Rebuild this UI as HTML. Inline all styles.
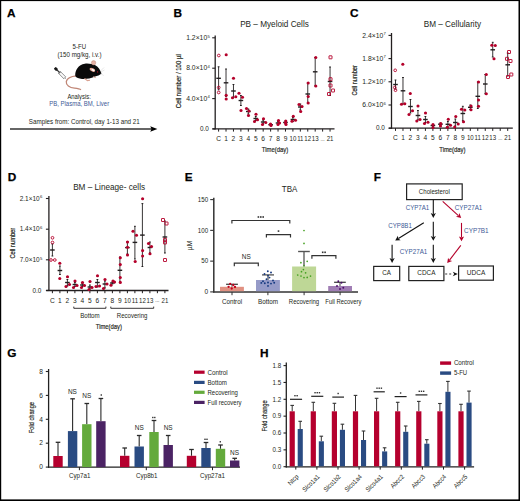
<!DOCTYPE html>
<html><head><meta charset="utf-8"><style>
html,body{margin:0;padding:0;background:#fff;}
svg{display:block;font-family:"Liberation Sans", sans-serif;}
</style></head><body>
<svg width="520" height="501" viewBox="0 0 520 501">
<rect x="0" y="0" width="520" height="1.1" fill="#000"/><rect x="0" y="499.4" width="520" height="1.6" fill="#000"/><rect x="0" y="0" width="1.2" height="501" fill="#000"/><rect x="518.5" y="0" width="1.5" height="501" fill="#000"/>
<text x="7" y="17.3" font-size="11.8" fill="#000" font-weight="bold" stroke="#000" stroke-width="0.25">A</text>
<text x="173.5" y="17.3" font-size="11.8" fill="#000" font-weight="bold" stroke="#000" stroke-width="0.25">B</text>
<text x="350" y="17.2" font-size="11.8" fill="#000" font-weight="bold" stroke="#000" stroke-width="0.25">C</text>
<text x="7.7" y="181.10000000000002" font-size="11.8" fill="#000" font-weight="bold" stroke="#000" stroke-width="0.25">D</text>
<text x="184.7" y="181.20000000000002" font-size="11.8" fill="#000" font-weight="bold" stroke="#000" stroke-width="0.25">E</text>
<text x="373.8" y="180.70000000000002" font-size="11.8" fill="#000" font-weight="bold" stroke="#000" stroke-width="0.25">F</text>
<text x="7.3" y="357.2" font-size="11.8" fill="#000" font-weight="bold" stroke="#000" stroke-width="0.25">G</text>
<text x="260" y="357.1" font-size="11.8" fill="#000" font-weight="bold" stroke="#000" stroke-width="0.25">H</text>
<line x1="215.2" y1="35.4" x2="215.2" y2="129.5" stroke="#231f20" stroke-width="1.3"/>
<line x1="212.5" y1="128.9" x2="334.5" y2="128.9" stroke="#231f20" stroke-width="1.3"/>
<line x1="212.2" y1="37.8" x2="215.2" y2="37.8" stroke="#231f20" stroke-width="1.1"/>
<line x1="212.2" y1="68.2" x2="215.2" y2="68.2" stroke="#231f20" stroke-width="1.1"/>
<line x1="212.2" y1="98.6" x2="215.2" y2="98.6" stroke="#231f20" stroke-width="1.1"/>
<line x1="212.2" y1="128.9" x2="215.2" y2="128.9" stroke="#231f20" stroke-width="1.1"/>
<line x1="218.6" y1="128.9" x2="218.6" y2="131.6" stroke="#231f20" stroke-width="1.0"/>
<line x1="226.03" y1="128.9" x2="226.03" y2="131.6" stroke="#231f20" stroke-width="1.0"/>
<line x1="233.45999999999998" y1="128.9" x2="233.45999999999998" y2="131.6" stroke="#231f20" stroke-width="1.0"/>
<line x1="240.89" y1="128.9" x2="240.89" y2="131.6" stroke="#231f20" stroke-width="1.0"/>
<line x1="248.32" y1="128.9" x2="248.32" y2="131.6" stroke="#231f20" stroke-width="1.0"/>
<line x1="255.75" y1="128.9" x2="255.75" y2="131.6" stroke="#231f20" stroke-width="1.0"/>
<line x1="263.18" y1="128.9" x2="263.18" y2="131.6" stroke="#231f20" stroke-width="1.0"/>
<line x1="270.61" y1="128.9" x2="270.61" y2="131.6" stroke="#231f20" stroke-width="1.0"/>
<line x1="278.03999999999996" y1="128.9" x2="278.03999999999996" y2="131.6" stroke="#231f20" stroke-width="1.0"/>
<line x1="285.47" y1="128.9" x2="285.47" y2="131.6" stroke="#231f20" stroke-width="1.0"/>
<line x1="292.9" y1="128.9" x2="292.9" y2="131.6" stroke="#231f20" stroke-width="1.0"/>
<line x1="300.33" y1="128.9" x2="300.33" y2="131.6" stroke="#231f20" stroke-width="1.0"/>
<line x1="307.76" y1="128.9" x2="307.76" y2="131.6" stroke="#231f20" stroke-width="1.0"/>
<line x1="315.19" y1="128.9" x2="315.19" y2="131.6" stroke="#231f20" stroke-width="1.0"/>
<line x1="322.62" y1="128.9" x2="322.62" y2="131.6" stroke="#231f20" stroke-width="1.0"/>
<line x1="330.04999999999995" y1="128.9" x2="330.04999999999995" y2="131.6" stroke="#231f20" stroke-width="1.0"/>
<text x="207.2" y="39.9" font-size="6.6" fill="#231f20" text-anchor="end" textLength="21" lengthAdjust="spacingAndGlyphs">1.2×10</text>
<text x="207.39999999999998" y="37.5" font-size="4.2" fill="#231f20">5</text>
<text x="207.2" y="70.3" font-size="6.6" fill="#231f20" text-anchor="end" textLength="21" lengthAdjust="spacingAndGlyphs">8.0×10</text>
<text x="207.39999999999998" y="67.9" font-size="4.2" fill="#231f20">4</text>
<text x="207.2" y="100.69999999999999" font-size="6.6" fill="#231f20" text-anchor="end" textLength="21" lengthAdjust="spacingAndGlyphs">4.0×10</text>
<text x="207.39999999999998" y="98.3" font-size="4.2" fill="#231f20">4</text>
<text x="208.79999999999998" y="131.0" font-size="6.6" fill="#231f20" text-anchor="end" textLength="8.9" lengthAdjust="spacingAndGlyphs">0.0</text>
<text x="218.6" y="140.9" font-size="6.6" fill="#231f20" text-anchor="middle">C</text>
<text x="226.03" y="140.9" font-size="6.6" fill="#231f20" text-anchor="middle">1</text>
<text x="233.45999999999998" y="140.9" font-size="6.6" fill="#231f20" text-anchor="middle">2</text>
<text x="240.89" y="140.9" font-size="6.6" fill="#231f20" text-anchor="middle">3</text>
<text x="248.32" y="140.9" font-size="6.6" fill="#231f20" text-anchor="middle">4</text>
<text x="255.75" y="140.9" font-size="6.6" fill="#231f20" text-anchor="middle">5</text>
<text x="263.18" y="140.9" font-size="6.6" fill="#231f20" text-anchor="middle">6</text>
<text x="270.61" y="140.9" font-size="6.6" fill="#231f20" text-anchor="middle">7</text>
<text x="278.03999999999996" y="140.9" font-size="6.6" fill="#231f20" text-anchor="middle">8</text>
<text x="285.47" y="140.9" font-size="6.6" fill="#231f20" text-anchor="middle">9</text>
<text x="292.9" y="140.9" font-size="6.6" fill="#231f20" text-anchor="middle" textLength="6.78" lengthAdjust="spacingAndGlyphs">10</text>
<text x="300.33" y="140.9" font-size="6.6" fill="#231f20" text-anchor="middle" textLength="6.33" lengthAdjust="spacingAndGlyphs">11</text>
<text x="307.76" y="140.9" font-size="6.6" fill="#231f20" text-anchor="middle" textLength="6.78" lengthAdjust="spacingAndGlyphs">12</text>
<text x="315.19" y="140.9" font-size="6.6" fill="#231f20" text-anchor="middle" textLength="6.78" lengthAdjust="spacingAndGlyphs">13</text>
<text x="322.62" y="140.70000000000002" font-size="5.0" fill="#231f20" text-anchor="middle">...</text>
<text x="330.04999999999995" y="140.9" font-size="6.6" fill="#231f20" text-anchor="middle" textLength="6.78" lengthAdjust="spacingAndGlyphs">21</text>
<text x="274.5" y="27.2" font-size="8.2" fill="#231f20" text-anchor="middle">PB – Myeloid Cells</text>
<text x="180.6" y="81.2" font-size="8.0" fill="#231f20" text-anchor="middle" textLength="54" lengthAdjust="spacingAndGlyphs" transform="rotate(-90 180.6 81.2)" stroke="#231f20" stroke-width="0.2">Cell number / 100 µl</text>
<text x="275" y="152.3" font-size="8.0" fill="#231f20" text-anchor="middle" textLength="26.3" lengthAdjust="spacingAndGlyphs" stroke="#231f20" stroke-width="0.2">Time(day)</text>
<line x1="218.6" y1="66.8" x2="218.6" y2="89.8" stroke="#231f20" stroke-width="0.9"/>
<line x1="217.7" y1="66.8" x2="219.5" y2="66.8" stroke="#231f20" stroke-width="1.0"/>
<line x1="217.7" y1="89.8" x2="219.5" y2="89.8" stroke="#231f20" stroke-width="1.0"/>
<line x1="216.29999999999998" y1="78.3" x2="220.9" y2="78.3" stroke="#231f20" stroke-width="1.4"/>
<circle cx="218.8" cy="55.5" r="1.35" fill="none" stroke="#b4002a" stroke-width="0.9"/>
<circle cx="218.7" cy="87.5" r="1.35" fill="none" stroke="#b4002a" stroke-width="0.9"/>
<circle cx="218.7" cy="92.5" r="1.35" fill="none" stroke="#b4002a" stroke-width="0.9"/>
<line x1="226.03" y1="69" x2="226.03" y2="96.6" stroke="#231f20" stroke-width="0.9"/>
<line x1="225.13" y1="69" x2="226.93" y2="69" stroke="#231f20" stroke-width="1.0"/>
<line x1="225.13" y1="96.6" x2="226.93" y2="96.6" stroke="#231f20" stroke-width="1.0"/>
<line x1="223.73" y1="82.8" x2="228.33" y2="82.8" stroke="#231f20" stroke-width="1.4"/>
<circle cx="226.2" cy="54.8" r="1.55" fill="#b4002a"/>
<circle cx="226.2" cy="95.2" r="1.55" fill="#b4002a"/>
<circle cx="226.2" cy="99" r="1.55" fill="#b4002a"/>
<line x1="233.45999999999998" y1="84.5" x2="233.45999999999998" y2="97.5" stroke="#231f20" stroke-width="0.9"/>
<line x1="232.55999999999997" y1="84.5" x2="234.35999999999999" y2="84.5" stroke="#231f20" stroke-width="1.0"/>
<line x1="232.55999999999997" y1="97.5" x2="234.35999999999999" y2="97.5" stroke="#231f20" stroke-width="1.0"/>
<line x1="231.15999999999997" y1="91" x2="235.76" y2="91" stroke="#231f20" stroke-width="1.4"/>
<circle cx="233.5" cy="78.3" r="1.55" fill="#b4002a"/>
<circle cx="232.5" cy="97.8" r="1.55" fill="#b4002a"/>
<circle cx="235.8" cy="96.8" r="1.55" fill="#b4002a"/>
<line x1="240.89" y1="95.5" x2="240.89" y2="105.5" stroke="#231f20" stroke-width="0.9"/>
<line x1="239.98999999999998" y1="95.5" x2="241.79" y2="95.5" stroke="#231f20" stroke-width="1.0"/>
<line x1="239.98999999999998" y1="105.5" x2="241.79" y2="105.5" stroke="#231f20" stroke-width="1.0"/>
<line x1="238.58999999999997" y1="100.5" x2="243.19" y2="100.5" stroke="#231f20" stroke-width="1.4"/>
<circle cx="239" cy="93.3" r="1.55" fill="#b4002a"/>
<circle cx="242.5" cy="97.2" r="1.55" fill="#b4002a"/>
<circle cx="241" cy="110.5" r="1.55" fill="#b4002a"/>
<line x1="248.32" y1="109" x2="248.32" y2="114" stroke="#231f20" stroke-width="0.9"/>
<line x1="247.42" y1="109" x2="249.22" y2="109" stroke="#231f20" stroke-width="1.0"/>
<line x1="247.42" y1="114" x2="249.22" y2="114" stroke="#231f20" stroke-width="1.0"/>
<line x1="246.01999999999998" y1="111.5" x2="250.62" y2="111.5" stroke="#231f20" stroke-width="1.4"/>
<circle cx="246.5" cy="108.5" r="1.55" fill="#b4002a"/>
<circle cx="249" cy="111" r="1.55" fill="#b4002a"/>
<circle cx="248.5" cy="115.5" r="1.55" fill="#b4002a"/>
<line x1="255.75" y1="116.5" x2="255.75" y2="120.5" stroke="#231f20" stroke-width="0.9"/>
<line x1="254.85" y1="116.5" x2="256.65" y2="116.5" stroke="#231f20" stroke-width="1.0"/>
<line x1="254.85" y1="120.5" x2="256.65" y2="120.5" stroke="#231f20" stroke-width="1.0"/>
<line x1="253.45" y1="118.5" x2="258.05" y2="118.5" stroke="#231f20" stroke-width="1.4"/>
<circle cx="256" cy="114.2" r="1.55" fill="#b4002a"/>
<circle cx="254.5" cy="121.5" r="1.55" fill="#b4002a"/>
<circle cx="257.5" cy="119.8" r="1.55" fill="#b4002a"/>
<line x1="263.18" y1="120" x2="263.18" y2="124" stroke="#231f20" stroke-width="0.9"/>
<line x1="262.28000000000003" y1="120" x2="264.08" y2="120" stroke="#231f20" stroke-width="1.0"/>
<line x1="262.28000000000003" y1="124" x2="264.08" y2="124" stroke="#231f20" stroke-width="1.0"/>
<line x1="260.88" y1="122" x2="265.48" y2="122" stroke="#231f20" stroke-width="1.4"/>
<circle cx="263.5" cy="118.8" r="1.55" fill="#b4002a"/>
<circle cx="262.5" cy="124.5" r="1.55" fill="#b4002a"/>
<circle cx="265.8" cy="122.5" r="1.55" fill="#b4002a"/>
<line x1="270.61" y1="124" x2="270.61" y2="125.5" stroke="#231f20" stroke-width="0.9"/>
<line x1="269.71000000000004" y1="124" x2="271.51" y2="124" stroke="#231f20" stroke-width="1.0"/>
<line x1="269.71000000000004" y1="125.5" x2="271.51" y2="125.5" stroke="#231f20" stroke-width="1.0"/>
<line x1="268.31" y1="124.7" x2="272.91" y2="124.7" stroke="#231f20" stroke-width="1.4"/>
<circle cx="270.5" cy="124" r="1.55" fill="#b4002a"/>
<circle cx="271" cy="125.5" r="1.55" fill="#b4002a"/>
<line x1="278.03999999999996" y1="121.5" x2="278.03999999999996" y2="124.5" stroke="#231f20" stroke-width="0.9"/>
<line x1="277.14" y1="121.5" x2="278.93999999999994" y2="121.5" stroke="#231f20" stroke-width="1.0"/>
<line x1="277.14" y1="124.5" x2="278.93999999999994" y2="124.5" stroke="#231f20" stroke-width="1.0"/>
<line x1="275.73999999999995" y1="123" x2="280.34" y2="123" stroke="#231f20" stroke-width="1.4"/>
<circle cx="278.5" cy="120.5" r="1.55" fill="#b4002a"/>
<circle cx="278" cy="124.5" r="1.55" fill="#b4002a"/>
<circle cx="279.5" cy="123" r="1.55" fill="#b4002a"/>
<line x1="285.47" y1="121" x2="285.47" y2="124" stroke="#231f20" stroke-width="0.9"/>
<line x1="284.57000000000005" y1="121" x2="286.37" y2="121" stroke="#231f20" stroke-width="1.0"/>
<line x1="284.57000000000005" y1="124" x2="286.37" y2="124" stroke="#231f20" stroke-width="1.0"/>
<line x1="283.17" y1="122.5" x2="287.77000000000004" y2="122.5" stroke="#231f20" stroke-width="1.4"/>
<circle cx="285.8" cy="121" r="1.55" fill="#b4002a"/>
<circle cx="286" cy="124.5" r="1.55" fill="#b4002a"/>
<circle cx="285.5" cy="122.8" r="1.55" fill="#b4002a"/>
<line x1="292.9" y1="117.5" x2="292.9" y2="121.5" stroke="#231f20" stroke-width="0.9"/>
<line x1="292.0" y1="117.5" x2="293.79999999999995" y2="117.5" stroke="#231f20" stroke-width="1.0"/>
<line x1="292.0" y1="121.5" x2="293.79999999999995" y2="121.5" stroke="#231f20" stroke-width="1.0"/>
<line x1="290.59999999999997" y1="119.5" x2="295.2" y2="119.5" stroke="#231f20" stroke-width="1.4"/>
<circle cx="293.3" cy="116.2" r="1.55" fill="#b4002a"/>
<circle cx="292" cy="121.2" r="1.55" fill="#b4002a"/>
<circle cx="295.5" cy="120.2" r="1.55" fill="#b4002a"/>
<line x1="300.33" y1="104" x2="300.33" y2="110" stroke="#231f20" stroke-width="0.9"/>
<line x1="299.43" y1="104" x2="301.22999999999996" y2="104" stroke="#231f20" stroke-width="1.0"/>
<line x1="299.43" y1="110" x2="301.22999999999996" y2="110" stroke="#231f20" stroke-width="1.0"/>
<line x1="298.03" y1="107" x2="302.63" y2="107" stroke="#231f20" stroke-width="1.4"/>
<circle cx="299" cy="104.5" r="1.55" fill="#b4002a"/>
<circle cx="302" cy="106.5" r="1.55" fill="#b4002a"/>
<circle cx="300.7" cy="111.5" r="1.55" fill="#b4002a"/>
<line x1="307.76" y1="83" x2="307.76" y2="103" stroke="#231f20" stroke-width="0.9"/>
<line x1="306.86" y1="83" x2="308.65999999999997" y2="83" stroke="#231f20" stroke-width="1.0"/>
<line x1="306.86" y1="103" x2="308.65999999999997" y2="103" stroke="#231f20" stroke-width="1.0"/>
<line x1="305.46" y1="94" x2="310.06" y2="94" stroke="#231f20" stroke-width="1.4"/>
<circle cx="308.2" cy="83" r="1.55" fill="#b4002a"/>
<circle cx="308.2" cy="96.5" r="1.55" fill="#b4002a"/>
<circle cx="308.2" cy="103" r="1.55" fill="#b4002a"/>
<line x1="315.19" y1="57.5" x2="315.19" y2="86" stroke="#231f20" stroke-width="0.9"/>
<line x1="314.29" y1="57.5" x2="316.09" y2="57.5" stroke="#231f20" stroke-width="1.0"/>
<line x1="314.29" y1="86" x2="316.09" y2="86" stroke="#231f20" stroke-width="1.0"/>
<line x1="312.89" y1="71.8" x2="317.49" y2="71.8" stroke="#231f20" stroke-width="1.4"/>
<circle cx="315.8" cy="57.5" r="1.55" fill="#b4002a"/>
<circle cx="315.8" cy="86" r="1.55" fill="#b4002a"/>
<line x1="330.04999999999995" y1="67" x2="330.04999999999995" y2="95.5" stroke="#231f20" stroke-width="0.9"/>
<line x1="329.15" y1="67" x2="330.94999999999993" y2="67" stroke="#231f20" stroke-width="1.0"/>
<line x1="329.15" y1="95.5" x2="330.94999999999993" y2="95.5" stroke="#231f20" stroke-width="1.0"/>
<line x1="327.74999999999994" y1="81.5" x2="332.34999999999997" y2="81.5" stroke="#231f20" stroke-width="1.4"/>
<rect x="329.0" y="55.8" width="3.0" height="3.0" rx="0.2" fill="none" stroke="#b4002a" stroke-width="0.9"/>
<rect x="329.0" y="77.7" width="3.0" height="3.0" rx="0.2" fill="none" stroke="#b4002a" stroke-width="0.9"/>
<rect x="329.0" y="84.0" width="3.0" height="3.0" rx="0.2" fill="none" stroke="#b4002a" stroke-width="0.9"/>
<rect x="331.5" y="89.0" width="3.0" height="3.0" rx="0.2" fill="none" stroke="#b4002a" stroke-width="0.9"/>
<rect x="327.5" y="92.5" width="3.0" height="3.0" rx="0.2" fill="none" stroke="#b4002a" stroke-width="0.9"/>
<line x1="391.5" y1="33.0" x2="391.5" y2="128.79999999999998" stroke="#231f20" stroke-width="1.3"/>
<line x1="388.8" y1="128.2" x2="512.8" y2="128.2" stroke="#231f20" stroke-width="1.3"/>
<line x1="388.5" y1="35.4" x2="391.5" y2="35.4" stroke="#231f20" stroke-width="1.1"/>
<line x1="388.5" y1="58.6" x2="391.5" y2="58.6" stroke="#231f20" stroke-width="1.1"/>
<line x1="388.5" y1="81.8" x2="391.5" y2="81.8" stroke="#231f20" stroke-width="1.1"/>
<line x1="388.5" y1="105.0" x2="391.5" y2="105.0" stroke="#231f20" stroke-width="1.1"/>
<line x1="388.5" y1="128.2" x2="391.5" y2="128.2" stroke="#231f20" stroke-width="1.1"/>
<line x1="395.5" y1="128.2" x2="395.5" y2="130.89999999999998" stroke="#231f20" stroke-width="1.0"/>
<line x1="402.98" y1="128.2" x2="402.98" y2="130.89999999999998" stroke="#231f20" stroke-width="1.0"/>
<line x1="410.46" y1="128.2" x2="410.46" y2="130.89999999999998" stroke="#231f20" stroke-width="1.0"/>
<line x1="417.94" y1="128.2" x2="417.94" y2="130.89999999999998" stroke="#231f20" stroke-width="1.0"/>
<line x1="425.42" y1="128.2" x2="425.42" y2="130.89999999999998" stroke="#231f20" stroke-width="1.0"/>
<line x1="432.9" y1="128.2" x2="432.9" y2="130.89999999999998" stroke="#231f20" stroke-width="1.0"/>
<line x1="440.38" y1="128.2" x2="440.38" y2="130.89999999999998" stroke="#231f20" stroke-width="1.0"/>
<line x1="447.86" y1="128.2" x2="447.86" y2="130.89999999999998" stroke="#231f20" stroke-width="1.0"/>
<line x1="455.34000000000003" y1="128.2" x2="455.34000000000003" y2="130.89999999999998" stroke="#231f20" stroke-width="1.0"/>
<line x1="462.82" y1="128.2" x2="462.82" y2="130.89999999999998" stroke="#231f20" stroke-width="1.0"/>
<line x1="470.3" y1="128.2" x2="470.3" y2="130.89999999999998" stroke="#231f20" stroke-width="1.0"/>
<line x1="477.78" y1="128.2" x2="477.78" y2="130.89999999999998" stroke="#231f20" stroke-width="1.0"/>
<line x1="485.26" y1="128.2" x2="485.26" y2="130.89999999999998" stroke="#231f20" stroke-width="1.0"/>
<line x1="492.74" y1="128.2" x2="492.74" y2="130.89999999999998" stroke="#231f20" stroke-width="1.0"/>
<line x1="500.22" y1="128.2" x2="500.22" y2="130.89999999999998" stroke="#231f20" stroke-width="1.0"/>
<line x1="507.7" y1="128.2" x2="507.7" y2="130.89999999999998" stroke="#231f20" stroke-width="1.0"/>
<text x="383.3" y="37.5" font-size="6.6" fill="#231f20" text-anchor="end" textLength="21" lengthAdjust="spacingAndGlyphs">2.4×10</text>
<text x="383.5" y="35.1" font-size="4.2" fill="#231f20">7</text>
<text x="383.3" y="60.7" font-size="6.6" fill="#231f20" text-anchor="end" textLength="21" lengthAdjust="spacingAndGlyphs">1.8×10</text>
<text x="383.5" y="58.300000000000004" font-size="4.2" fill="#231f20">7</text>
<text x="383.3" y="83.89999999999999" font-size="6.6" fill="#231f20" text-anchor="end" textLength="21" lengthAdjust="spacingAndGlyphs">1.2×10</text>
<text x="383.5" y="81.5" font-size="4.2" fill="#231f20">7</text>
<text x="383.3" y="107.1" font-size="6.6" fill="#231f20" text-anchor="end" textLength="21" lengthAdjust="spacingAndGlyphs">6.0×10</text>
<text x="383.5" y="104.7" font-size="4.2" fill="#231f20">6</text>
<text x="384.90000000000003" y="130.29999999999998" font-size="6.6" fill="#231f20" text-anchor="end" textLength="8.9" lengthAdjust="spacingAndGlyphs">0.0</text>
<text x="395.5" y="140.2" font-size="6.6" fill="#231f20" text-anchor="middle">C</text>
<text x="402.98" y="140.2" font-size="6.6" fill="#231f20" text-anchor="middle">1</text>
<text x="410.46" y="140.2" font-size="6.6" fill="#231f20" text-anchor="middle">2</text>
<text x="417.94" y="140.2" font-size="6.6" fill="#231f20" text-anchor="middle">3</text>
<text x="425.42" y="140.2" font-size="6.6" fill="#231f20" text-anchor="middle">4</text>
<text x="432.9" y="140.2" font-size="6.6" fill="#231f20" text-anchor="middle">5</text>
<text x="440.38" y="140.2" font-size="6.6" fill="#231f20" text-anchor="middle">6</text>
<text x="447.86" y="140.2" font-size="6.6" fill="#231f20" text-anchor="middle">7</text>
<text x="455.34000000000003" y="140.2" font-size="6.6" fill="#231f20" text-anchor="middle">8</text>
<text x="462.82" y="140.2" font-size="6.6" fill="#231f20" text-anchor="middle">9</text>
<text x="470.3" y="140.2" font-size="6.6" fill="#231f20" text-anchor="middle" textLength="6.78" lengthAdjust="spacingAndGlyphs">10</text>
<text x="477.78" y="140.2" font-size="6.6" fill="#231f20" text-anchor="middle" textLength="6.33" lengthAdjust="spacingAndGlyphs">11</text>
<text x="485.26" y="140.2" font-size="6.6" fill="#231f20" text-anchor="middle" textLength="6.78" lengthAdjust="spacingAndGlyphs">12</text>
<text x="492.74" y="140.2" font-size="6.6" fill="#231f20" text-anchor="middle" textLength="6.78" lengthAdjust="spacingAndGlyphs">13</text>
<text x="500.22" y="140.0" font-size="5.0" fill="#231f20" text-anchor="middle">...</text>
<text x="507.7" y="140.2" font-size="6.6" fill="#231f20" text-anchor="middle" textLength="6.78" lengthAdjust="spacingAndGlyphs">21</text>
<text x="452.4" y="27.3" font-size="8.2" fill="#231f20" text-anchor="middle">BM – Cellularity</text>
<text x="357.0" y="80.4" font-size="8.0" fill="#231f20" text-anchor="middle" textLength="30.4" lengthAdjust="spacingAndGlyphs" transform="rotate(-90 357.0 80.4)" stroke="#231f20" stroke-width="0.2">Cell number</text>
<text x="452.4" y="151.8" font-size="8.0" fill="#231f20" text-anchor="middle" textLength="26.2" lengthAdjust="spacingAndGlyphs" stroke="#231f20" stroke-width="0.2">Time(day)</text>
<line x1="395.5" y1="80" x2="395.5" y2="89" stroke="#231f20" stroke-width="0.9"/>
<line x1="394.6" y1="80" x2="396.4" y2="80" stroke="#231f20" stroke-width="1.0"/>
<line x1="394.6" y1="89" x2="396.4" y2="89" stroke="#231f20" stroke-width="1.0"/>
<line x1="393.2" y1="84.5" x2="397.8" y2="84.5" stroke="#231f20" stroke-width="1.4"/>
<circle cx="395.2" cy="70.3" r="1.35" fill="none" stroke="#b4002a" stroke-width="0.9"/>
<circle cx="394.8" cy="87.5" r="1.35" fill="none" stroke="#b4002a" stroke-width="0.9"/>
<circle cx="395.5" cy="90.2" r="1.35" fill="none" stroke="#b4002a" stroke-width="0.9"/>
<line x1="402.98" y1="77.5" x2="402.98" y2="104" stroke="#231f20" stroke-width="0.9"/>
<line x1="402.08000000000004" y1="77.5" x2="403.88" y2="77.5" stroke="#231f20" stroke-width="1.0"/>
<line x1="402.08000000000004" y1="104" x2="403.88" y2="104" stroke="#231f20" stroke-width="1.0"/>
<line x1="400.68" y1="90.8" x2="405.28000000000003" y2="90.8" stroke="#231f20" stroke-width="1.4"/>
<circle cx="402.8" cy="64.2" r="1.55" fill="#b4002a"/>
<circle cx="401.5" cy="104.3" r="1.55" fill="#b4002a"/>
<circle cx="404.8" cy="103.8" r="1.55" fill="#b4002a"/>
<line x1="410.46" y1="99.5" x2="410.46" y2="113" stroke="#231f20" stroke-width="0.9"/>
<line x1="409.56" y1="99.5" x2="411.35999999999996" y2="99.5" stroke="#231f20" stroke-width="1.0"/>
<line x1="409.56" y1="113" x2="411.35999999999996" y2="113" stroke="#231f20" stroke-width="1.0"/>
<line x1="408.15999999999997" y1="106.5" x2="412.76" y2="106.5" stroke="#231f20" stroke-width="1.4"/>
<circle cx="410.3" cy="93.5" r="1.55" fill="#b4002a"/>
<circle cx="412.5" cy="110.8" r="1.55" fill="#b4002a"/>
<circle cx="409" cy="114.5" r="1.55" fill="#b4002a"/>
<line x1="417.94" y1="110.5" x2="417.94" y2="120" stroke="#231f20" stroke-width="0.9"/>
<line x1="417.04" y1="110.5" x2="418.84" y2="110.5" stroke="#231f20" stroke-width="1.0"/>
<line x1="417.04" y1="120" x2="418.84" y2="120" stroke="#231f20" stroke-width="1.0"/>
<line x1="415.64" y1="115.5" x2="420.24" y2="115.5" stroke="#231f20" stroke-width="1.4"/>
<circle cx="418" cy="106" r="1.55" fill="#b4002a"/>
<circle cx="416.8" cy="121" r="1.55" fill="#b4002a"/>
<circle cx="420" cy="119.5" r="1.55" fill="#b4002a"/>
<line x1="425.42" y1="116.5" x2="425.42" y2="122.5" stroke="#231f20" stroke-width="0.9"/>
<line x1="424.52000000000004" y1="116.5" x2="426.32" y2="116.5" stroke="#231f20" stroke-width="1.0"/>
<line x1="424.52000000000004" y1="122.5" x2="426.32" y2="122.5" stroke="#231f20" stroke-width="1.0"/>
<line x1="423.12" y1="119.5" x2="427.72" y2="119.5" stroke="#231f20" stroke-width="1.4"/>
<circle cx="425.5" cy="113" r="1.55" fill="#b4002a"/>
<circle cx="424.5" cy="123.5" r="1.55" fill="#b4002a"/>
<circle cx="428" cy="122.3" r="1.55" fill="#b4002a"/>
<line x1="432.9" y1="124.5" x2="432.9" y2="126.5" stroke="#231f20" stroke-width="0.9"/>
<line x1="432.0" y1="124.5" x2="433.79999999999995" y2="124.5" stroke="#231f20" stroke-width="1.0"/>
<line x1="432.0" y1="126.5" x2="433.79999999999995" y2="126.5" stroke="#231f20" stroke-width="1.0"/>
<line x1="430.59999999999997" y1="125.5" x2="435.2" y2="125.5" stroke="#231f20" stroke-width="1.4"/>
<circle cx="433" cy="124.5" r="1.55" fill="#b4002a"/>
<circle cx="433" cy="127.5" r="1.55" fill="#b4002a"/>
<line x1="440.38" y1="123" x2="440.38" y2="125.5" stroke="#231f20" stroke-width="0.9"/>
<line x1="439.48" y1="123" x2="441.28" y2="123" stroke="#231f20" stroke-width="1.0"/>
<line x1="439.48" y1="125.5" x2="441.28" y2="125.5" stroke="#231f20" stroke-width="1.0"/>
<line x1="438.08" y1="124.2" x2="442.68" y2="124.2" stroke="#231f20" stroke-width="1.4"/>
<circle cx="440.8" cy="123.5" r="1.55" fill="#b4002a"/>
<circle cx="440.5" cy="126" r="1.55" fill="#b4002a"/>
<line x1="447.86" y1="121.5" x2="447.86" y2="127" stroke="#231f20" stroke-width="0.9"/>
<line x1="446.96000000000004" y1="121.5" x2="448.76" y2="121.5" stroke="#231f20" stroke-width="1.0"/>
<line x1="446.96000000000004" y1="127" x2="448.76" y2="127" stroke="#231f20" stroke-width="1.0"/>
<line x1="445.56" y1="124.3" x2="450.16" y2="124.3" stroke="#231f20" stroke-width="1.4"/>
<circle cx="448.3" cy="119.3" r="1.55" fill="#b4002a"/>
<circle cx="447.3" cy="127.3" r="1.55" fill="#b4002a"/>
<circle cx="450.5" cy="125.3" r="1.55" fill="#b4002a"/>
<line x1="455.34000000000003" y1="119" x2="455.34000000000003" y2="126" stroke="#231f20" stroke-width="0.9"/>
<line x1="454.44000000000005" y1="119" x2="456.24" y2="119" stroke="#231f20" stroke-width="1.0"/>
<line x1="454.44000000000005" y1="126" x2="456.24" y2="126" stroke="#231f20" stroke-width="1.0"/>
<line x1="453.04" y1="122.5" x2="457.64000000000004" y2="122.5" stroke="#231f20" stroke-width="1.4"/>
<circle cx="455.8" cy="116.5" r="1.55" fill="#b4002a"/>
<circle cx="454.7" cy="127" r="1.55" fill="#b4002a"/>
<circle cx="458.2" cy="124" r="1.55" fill="#b4002a"/>
<line x1="462.82" y1="106.3" x2="462.82" y2="120.7" stroke="#231f20" stroke-width="0.9"/>
<line x1="461.92" y1="106.3" x2="463.71999999999997" y2="106.3" stroke="#231f20" stroke-width="1.0"/>
<line x1="461.92" y1="120.7" x2="463.71999999999997" y2="120.7" stroke="#231f20" stroke-width="1.0"/>
<line x1="460.52" y1="113.5" x2="465.12" y2="113.5" stroke="#231f20" stroke-width="1.4"/>
<circle cx="461.5" cy="109.2" r="1.55" fill="#b4002a"/>
<circle cx="464.8" cy="110" r="1.55" fill="#b4002a"/>
<circle cx="463.5" cy="121.8" r="1.55" fill="#b4002a"/>
<line x1="470.3" y1="105" x2="470.3" y2="109.5" stroke="#231f20" stroke-width="0.9"/>
<line x1="469.40000000000003" y1="105" x2="471.2" y2="105" stroke="#231f20" stroke-width="1.0"/>
<line x1="469.40000000000003" y1="109.5" x2="471.2" y2="109.5" stroke="#231f20" stroke-width="1.0"/>
<line x1="468.0" y1="107.3" x2="472.6" y2="107.3" stroke="#231f20" stroke-width="1.4"/>
<circle cx="471" cy="106" r="1.55" fill="#b4002a"/>
<circle cx="471" cy="109.8" r="1.55" fill="#b4002a"/>
<line x1="477.78" y1="82" x2="477.78" y2="108.5" stroke="#231f20" stroke-width="0.9"/>
<line x1="476.88" y1="82" x2="478.67999999999995" y2="82" stroke="#231f20" stroke-width="1.0"/>
<line x1="476.88" y1="108.5" x2="478.67999999999995" y2="108.5" stroke="#231f20" stroke-width="1.0"/>
<line x1="475.47999999999996" y1="96.3" x2="480.08" y2="96.3" stroke="#231f20" stroke-width="1.4"/>
<circle cx="478.5" cy="82" r="1.55" fill="#b4002a"/>
<circle cx="478.5" cy="100" r="1.55" fill="#b4002a"/>
<circle cx="478.5" cy="106.3" r="1.55" fill="#b4002a"/>
<line x1="485.26" y1="74.5" x2="485.26" y2="93.8" stroke="#231f20" stroke-width="0.9"/>
<line x1="484.36" y1="74.5" x2="486.15999999999997" y2="74.5" stroke="#231f20" stroke-width="1.0"/>
<line x1="484.36" y1="93.8" x2="486.15999999999997" y2="93.8" stroke="#231f20" stroke-width="1.0"/>
<line x1="482.96" y1="84" x2="487.56" y2="84" stroke="#231f20" stroke-width="1.4"/>
<circle cx="486.3" cy="74.5" r="1.55" fill="#b4002a"/>
<circle cx="486.3" cy="93.8" r="1.55" fill="#b4002a"/>
<line x1="492.74" y1="42.3" x2="492.74" y2="57" stroke="#231f20" stroke-width="0.9"/>
<line x1="491.84000000000003" y1="42.3" x2="493.64" y2="42.3" stroke="#231f20" stroke-width="1.0"/>
<line x1="491.84000000000003" y1="57" x2="493.64" y2="57" stroke="#231f20" stroke-width="1.0"/>
<line x1="490.44" y1="49.8" x2="495.04" y2="49.8" stroke="#231f20" stroke-width="1.4"/>
<circle cx="491.8" cy="45.2" r="1.55" fill="#b4002a"/>
<circle cx="495.3" cy="45.5" r="1.55" fill="#b4002a"/>
<circle cx="494" cy="58.7" r="1.55" fill="#b4002a"/>
<line x1="507.7" y1="53" x2="507.7" y2="76" stroke="#231f20" stroke-width="0.9"/>
<line x1="506.8" y1="53" x2="508.59999999999997" y2="53" stroke="#231f20" stroke-width="1.0"/>
<line x1="506.8" y1="76" x2="508.59999999999997" y2="76" stroke="#231f20" stroke-width="1.0"/>
<line x1="505.4" y1="64.8" x2="510.0" y2="64.8" stroke="#231f20" stroke-width="1.4"/>
<rect x="507.5" y="50.5" width="3.0" height="3.0" rx="0.2" fill="none" stroke="#b4002a" stroke-width="0.9"/>
<rect x="505.5" y="57.3" width="3.0" height="3.0" rx="0.2" fill="none" stroke="#b4002a" stroke-width="0.9"/>
<rect x="509.0" y="59.5" width="3.0" height="3.0" rx="0.2" fill="none" stroke="#b4002a" stroke-width="0.9"/>
<rect x="509.8" y="73.0" width="3.0" height="3.0" rx="0.2" fill="none" stroke="#b4002a" stroke-width="0.9"/>
<rect x="506.5" y="75.5" width="3.0" height="3.0" rx="0.2" fill="none" stroke="#b4002a" stroke-width="0.9"/>
<line x1="48.9" y1="196.1" x2="48.9" y2="291.1" stroke="#231f20" stroke-width="1.3"/>
<line x1="46.199999999999996" y1="290.5" x2="168.5" y2="290.5" stroke="#231f20" stroke-width="1.3"/>
<line x1="45.9" y1="198.5" x2="48.9" y2="198.5" stroke="#231f20" stroke-width="1.1"/>
<line x1="45.9" y1="229.2" x2="48.9" y2="229.2" stroke="#231f20" stroke-width="1.1"/>
<line x1="45.9" y1="259.8" x2="48.9" y2="259.8" stroke="#231f20" stroke-width="1.1"/>
<line x1="45.9" y1="290.5" x2="48.9" y2="290.5" stroke="#231f20" stroke-width="1.1"/>
<line x1="52.4" y1="290.5" x2="52.4" y2="293.2" stroke="#231f20" stroke-width="1.0"/>
<line x1="59.9" y1="290.5" x2="59.9" y2="293.2" stroke="#231f20" stroke-width="1.0"/>
<line x1="67.4" y1="290.5" x2="67.4" y2="293.2" stroke="#231f20" stroke-width="1.0"/>
<line x1="74.9" y1="290.5" x2="74.9" y2="293.2" stroke="#231f20" stroke-width="1.0"/>
<line x1="82.4" y1="290.5" x2="82.4" y2="293.2" stroke="#231f20" stroke-width="1.0"/>
<line x1="89.9" y1="290.5" x2="89.9" y2="293.2" stroke="#231f20" stroke-width="1.0"/>
<line x1="97.4" y1="290.5" x2="97.4" y2="293.2" stroke="#231f20" stroke-width="1.0"/>
<line x1="104.9" y1="290.5" x2="104.9" y2="293.2" stroke="#231f20" stroke-width="1.0"/>
<line x1="112.4" y1="290.5" x2="112.4" y2="293.2" stroke="#231f20" stroke-width="1.0"/>
<line x1="119.9" y1="290.5" x2="119.9" y2="293.2" stroke="#231f20" stroke-width="1.0"/>
<line x1="127.4" y1="290.5" x2="127.4" y2="293.2" stroke="#231f20" stroke-width="1.0"/>
<line x1="134.9" y1="290.5" x2="134.9" y2="293.2" stroke="#231f20" stroke-width="1.0"/>
<line x1="142.4" y1="290.5" x2="142.4" y2="293.2" stroke="#231f20" stroke-width="1.0"/>
<line x1="149.9" y1="290.5" x2="149.9" y2="293.2" stroke="#231f20" stroke-width="1.0"/>
<line x1="157.4" y1="290.5" x2="157.4" y2="293.2" stroke="#231f20" stroke-width="1.0"/>
<line x1="164.9" y1="290.5" x2="164.9" y2="293.2" stroke="#231f20" stroke-width="1.0"/>
<text x="39.7" y="200.6" font-size="6.6" fill="#231f20" text-anchor="end" textLength="20" lengthAdjust="spacingAndGlyphs">2.1×10</text>
<text x="39.900000000000006" y="198.2" font-size="4.2" fill="#231f20">6</text>
<text x="39.7" y="231.29999999999998" font-size="6.6" fill="#231f20" text-anchor="end" textLength="20" lengthAdjust="spacingAndGlyphs">1.4×10</text>
<text x="39.900000000000006" y="228.89999999999998" font-size="4.2" fill="#231f20">6</text>
<text x="39.7" y="261.90000000000003" font-size="6.6" fill="#231f20" text-anchor="end" textLength="20" lengthAdjust="spacingAndGlyphs">7.0×10</text>
<text x="39.900000000000006" y="259.5" font-size="4.2" fill="#231f20">5</text>
<text x="41.300000000000004" y="292.6" font-size="6.6" fill="#231f20" text-anchor="end" textLength="8.9" lengthAdjust="spacingAndGlyphs">0.0</text>
<text x="52.4" y="302.5" font-size="6.6" fill="#231f20" text-anchor="middle">C</text>
<text x="59.9" y="302.5" font-size="6.6" fill="#231f20" text-anchor="middle">1</text>
<text x="67.4" y="302.5" font-size="6.6" fill="#231f20" text-anchor="middle">2</text>
<text x="74.9" y="302.5" font-size="6.6" fill="#231f20" text-anchor="middle">3</text>
<text x="82.4" y="302.5" font-size="6.6" fill="#231f20" text-anchor="middle">4</text>
<text x="89.9" y="302.5" font-size="6.6" fill="#231f20" text-anchor="middle">5</text>
<text x="97.4" y="302.5" font-size="6.6" fill="#231f20" text-anchor="middle">6</text>
<text x="104.9" y="302.5" font-size="6.6" fill="#231f20" text-anchor="middle">7</text>
<text x="112.4" y="302.5" font-size="6.6" fill="#231f20" text-anchor="middle">8</text>
<text x="119.9" y="302.5" font-size="6.6" fill="#231f20" text-anchor="middle">9</text>
<text x="127.4" y="302.5" font-size="6.6" fill="#231f20" text-anchor="middle" textLength="6.78" lengthAdjust="spacingAndGlyphs">10</text>
<text x="134.9" y="302.5" font-size="6.6" fill="#231f20" text-anchor="middle" textLength="6.33" lengthAdjust="spacingAndGlyphs">11</text>
<text x="142.4" y="302.5" font-size="6.6" fill="#231f20" text-anchor="middle" textLength="6.78" lengthAdjust="spacingAndGlyphs">12</text>
<text x="149.9" y="302.5" font-size="6.6" fill="#231f20" text-anchor="middle" textLength="6.78" lengthAdjust="spacingAndGlyphs">13</text>
<text x="157.4" y="302.3" font-size="5.0" fill="#231f20" text-anchor="middle">...</text>
<text x="164.9" y="302.5" font-size="6.6" fill="#231f20" text-anchor="middle" textLength="6.78" lengthAdjust="spacingAndGlyphs">21</text>
<text x="109.1" y="190.4" font-size="8.2" fill="#231f20" text-anchor="middle">BM – Lineage- cells</text>
<text x="14.7" y="243.2" font-size="8.0" fill="#231f20" text-anchor="middle" textLength="30.7" lengthAdjust="spacingAndGlyphs" transform="rotate(-90 14.7 243.2)" stroke="#231f20" stroke-width="0.2">Cell number</text>
<text x="108.85" y="328.8" font-size="8.0" fill="#231f20" text-anchor="middle" textLength="26.1" lengthAdjust="spacingAndGlyphs" stroke="#231f20" stroke-width="0.2">Time(day)</text>
<line x1="52.4" y1="244" x2="52.4" y2="256" stroke="#231f20" stroke-width="0.9"/>
<line x1="51.5" y1="244" x2="53.3" y2="244" stroke="#231f20" stroke-width="1.0"/>
<line x1="51.5" y1="256" x2="53.3" y2="256" stroke="#231f20" stroke-width="1.0"/>
<line x1="50.1" y1="250" x2="54.699999999999996" y2="250" stroke="#231f20" stroke-width="1.4"/>
<circle cx="52.5" cy="237.8" r="1.35" fill="none" stroke="#b4002a" stroke-width="0.9"/>
<circle cx="52.5" cy="242.5" r="1.35" fill="none" stroke="#b4002a" stroke-width="0.9"/>
<circle cx="51" cy="260" r="1.35" fill="none" stroke="#b4002a" stroke-width="0.9"/>
<circle cx="54.8" cy="260" r="1.35" fill="none" stroke="#b4002a" stroke-width="0.9"/>
<line x1="59.9" y1="266" x2="59.9" y2="274.5" stroke="#231f20" stroke-width="0.9"/>
<line x1="59.0" y1="266" x2="60.8" y2="266" stroke="#231f20" stroke-width="1.0"/>
<line x1="59.0" y1="274.5" x2="60.8" y2="274.5" stroke="#231f20" stroke-width="1.0"/>
<line x1="57.6" y1="270.5" x2="62.199999999999996" y2="270.5" stroke="#231f20" stroke-width="1.4"/>
<circle cx="59.8" cy="263.2" r="1.55" fill="#b4002a"/>
<circle cx="59.8" cy="278.5" r="1.55" fill="#b4002a"/>
<line x1="67.4" y1="279.5" x2="67.4" y2="286" stroke="#231f20" stroke-width="0.9"/>
<line x1="66.5" y1="279.5" x2="68.30000000000001" y2="279.5" stroke="#231f20" stroke-width="1.0"/>
<line x1="66.5" y1="286" x2="68.30000000000001" y2="286" stroke="#231f20" stroke-width="1.0"/>
<line x1="65.10000000000001" y1="282.5" x2="69.7" y2="282.5" stroke="#231f20" stroke-width="1.4"/>
<circle cx="67.5" cy="276.8" r="1.55" fill="#b4002a"/>
<circle cx="66" cy="286.5" r="1.55" fill="#b4002a"/>
<circle cx="69.5" cy="284.5" r="1.55" fill="#b4002a"/>
<line x1="74.9" y1="282.5" x2="74.9" y2="286.5" stroke="#231f20" stroke-width="0.9"/>
<line x1="74.0" y1="282.5" x2="75.80000000000001" y2="282.5" stroke="#231f20" stroke-width="1.0"/>
<line x1="74.0" y1="286.5" x2="75.80000000000001" y2="286.5" stroke="#231f20" stroke-width="1.0"/>
<line x1="72.60000000000001" y1="284.5" x2="77.2" y2="284.5" stroke="#231f20" stroke-width="1.4"/>
<circle cx="75" cy="281" r="1.55" fill="#b4002a"/>
<circle cx="73.5" cy="287.5" r="1.55" fill="#b4002a"/>
<circle cx="77" cy="285.5" r="1.55" fill="#b4002a"/>
<line x1="82.4" y1="283.5" x2="82.4" y2="286.5" stroke="#231f20" stroke-width="0.9"/>
<line x1="81.5" y1="283.5" x2="83.30000000000001" y2="283.5" stroke="#231f20" stroke-width="1.0"/>
<line x1="81.5" y1="286.5" x2="83.30000000000001" y2="286.5" stroke="#231f20" stroke-width="1.0"/>
<line x1="80.10000000000001" y1="285" x2="84.7" y2="285" stroke="#231f20" stroke-width="1.4"/>
<circle cx="82.5" cy="282.5" r="1.55" fill="#b4002a"/>
<circle cx="81.5" cy="287.5" r="1.55" fill="#b4002a"/>
<circle cx="84.5" cy="285.5" r="1.55" fill="#b4002a"/>
<line x1="89.9" y1="285" x2="89.9" y2="289" stroke="#231f20" stroke-width="0.9"/>
<line x1="89.0" y1="285" x2="90.80000000000001" y2="285" stroke="#231f20" stroke-width="1.0"/>
<line x1="89.0" y1="289" x2="90.80000000000001" y2="289" stroke="#231f20" stroke-width="1.0"/>
<line x1="87.60000000000001" y1="287" x2="92.2" y2="287" stroke="#231f20" stroke-width="1.4"/>
<circle cx="90" cy="281.5" r="1.55" fill="#b4002a"/>
<circle cx="89" cy="289.5" r="1.55" fill="#b4002a"/>
<circle cx="92" cy="287.5" r="1.55" fill="#b4002a"/>
<line x1="97.4" y1="279.5" x2="97.4" y2="287" stroke="#231f20" stroke-width="0.9"/>
<line x1="96.5" y1="279.5" x2="98.30000000000001" y2="279.5" stroke="#231f20" stroke-width="1.0"/>
<line x1="96.5" y1="287" x2="98.30000000000001" y2="287" stroke="#231f20" stroke-width="1.0"/>
<line x1="95.10000000000001" y1="282.5" x2="99.7" y2="282.5" stroke="#231f20" stroke-width="1.4"/>
<circle cx="97.5" cy="275.8" r="1.55" fill="#b4002a"/>
<circle cx="96" cy="286.5" r="1.55" fill="#b4002a"/>
<circle cx="99.5" cy="286" r="1.55" fill="#b4002a"/>
<line x1="104.9" y1="281" x2="104.9" y2="288" stroke="#231f20" stroke-width="0.9"/>
<line x1="104.0" y1="281" x2="105.80000000000001" y2="281" stroke="#231f20" stroke-width="1.0"/>
<line x1="104.0" y1="288" x2="105.80000000000001" y2="288" stroke="#231f20" stroke-width="1.0"/>
<line x1="102.60000000000001" y1="284" x2="107.2" y2="284" stroke="#231f20" stroke-width="1.4"/>
<circle cx="105" cy="279.5" r="1.55" fill="#b4002a"/>
<circle cx="103.5" cy="288.5" r="1.55" fill="#b4002a"/>
<circle cx="107" cy="284" r="1.55" fill="#b4002a"/>
<line x1="112.4" y1="282" x2="112.4" y2="284" stroke="#231f20" stroke-width="0.9"/>
<line x1="111.5" y1="282" x2="113.30000000000001" y2="282" stroke="#231f20" stroke-width="1.0"/>
<line x1="111.5" y1="284" x2="113.30000000000001" y2="284" stroke="#231f20" stroke-width="1.0"/>
<line x1="110.10000000000001" y1="283" x2="114.7" y2="283" stroke="#231f20" stroke-width="1.4"/>
<circle cx="111" cy="285.3" r="1.55" fill="#b4002a"/>
<circle cx="113" cy="281" r="1.55" fill="#b4002a"/>
<circle cx="114.5" cy="282" r="1.55" fill="#b4002a"/>
<line x1="119.9" y1="257" x2="119.9" y2="282" stroke="#231f20" stroke-width="0.9"/>
<line x1="119.0" y1="257" x2="120.80000000000001" y2="257" stroke="#231f20" stroke-width="1.0"/>
<line x1="119.0" y1="282" x2="120.80000000000001" y2="282" stroke="#231f20" stroke-width="1.0"/>
<line x1="117.60000000000001" y1="270.3" x2="122.2" y2="270.3" stroke="#231f20" stroke-width="1.4"/>
<circle cx="120.3" cy="257.8" r="1.55" fill="#b4002a"/>
<circle cx="120.3" cy="264.6" r="1.55" fill="#b4002a"/>
<circle cx="120.3" cy="277.5" r="1.55" fill="#b4002a"/>
<circle cx="120.3" cy="282.4" r="1.55" fill="#b4002a"/>
<line x1="127.4" y1="241.7" x2="127.4" y2="254" stroke="#231f20" stroke-width="0.9"/>
<line x1="126.5" y1="241.7" x2="128.3" y2="241.7" stroke="#231f20" stroke-width="1.0"/>
<line x1="126.5" y1="254" x2="128.3" y2="254" stroke="#231f20" stroke-width="1.0"/>
<line x1="125.10000000000001" y1="247.6" x2="129.70000000000002" y2="247.6" stroke="#231f20" stroke-width="1.4"/>
<circle cx="127.5" cy="242" r="1.55" fill="#b4002a"/>
<circle cx="127.5" cy="247.2" r="1.55" fill="#b4002a"/>
<circle cx="127.5" cy="255" r="1.55" fill="#b4002a"/>
<line x1="134.9" y1="226.3" x2="134.9" y2="259" stroke="#231f20" stroke-width="0.9"/>
<line x1="134.0" y1="226.3" x2="135.8" y2="226.3" stroke="#231f20" stroke-width="1.0"/>
<line x1="134.0" y1="259" x2="135.8" y2="259" stroke="#231f20" stroke-width="1.0"/>
<line x1="132.6" y1="242.4" x2="137.20000000000002" y2="242.4" stroke="#231f20" stroke-width="1.4"/>
<circle cx="133" cy="231.3" r="1.55" fill="#b4002a"/>
<circle cx="136.5" cy="235.3" r="1.55" fill="#b4002a"/>
<circle cx="135.2" cy="261.5" r="1.55" fill="#b4002a"/>
<line x1="142.4" y1="203.6" x2="142.4" y2="266.5" stroke="#231f20" stroke-width="0.9"/>
<line x1="141.5" y1="203.6" x2="143.3" y2="203.6" stroke="#231f20" stroke-width="1.0"/>
<line x1="141.5" y1="266.5" x2="143.3" y2="266.5" stroke="#231f20" stroke-width="1.0"/>
<line x1="140.1" y1="235.1" x2="144.70000000000002" y2="235.1" stroke="#231f20" stroke-width="1.4"/>
<circle cx="142.6" cy="198.7" r="1.55" fill="#b4002a"/>
<circle cx="142.6" cy="250.6" r="1.55" fill="#b4002a"/>
<circle cx="142.6" cy="256" r="1.55" fill="#b4002a"/>
<line x1="149.9" y1="242" x2="149.9" y2="253" stroke="#231f20" stroke-width="0.9"/>
<line x1="149.0" y1="242" x2="150.8" y2="242" stroke="#231f20" stroke-width="1.0"/>
<line x1="149.0" y1="253" x2="150.8" y2="253" stroke="#231f20" stroke-width="1.0"/>
<line x1="147.6" y1="247.5" x2="152.20000000000002" y2="247.5" stroke="#231f20" stroke-width="1.4"/>
<circle cx="148.5" cy="243.5" r="1.55" fill="#b4002a"/>
<circle cx="151.5" cy="246.5" r="1.55" fill="#b4002a"/>
<circle cx="150" cy="253.8" r="1.55" fill="#b4002a"/>
<line x1="164.9" y1="221" x2="164.9" y2="253" stroke="#231f20" stroke-width="0.9"/>
<line x1="164.0" y1="221" x2="165.8" y2="221" stroke="#231f20" stroke-width="1.0"/>
<line x1="164.0" y1="253" x2="165.8" y2="253" stroke="#231f20" stroke-width="1.0"/>
<line x1="162.6" y1="237" x2="167.20000000000002" y2="237" stroke="#231f20" stroke-width="1.4"/>
<rect x="161.5" y="218.5" width="3.0" height="3.0" rx="0.2" fill="none" stroke="#b4002a" stroke-width="0.9"/>
<rect x="165.0" y="222.0" width="3.0" height="3.0" rx="0.2" fill="none" stroke="#b4002a" stroke-width="0.9"/>
<rect x="163.5" y="238.3" width="3.0" height="3.0" rx="0.2" fill="none" stroke="#b4002a" stroke-width="0.9"/>
<rect x="163.5" y="241.0" width="3.0" height="3.0" rx="0.2" fill="none" stroke="#b4002a" stroke-width="0.9"/>
<rect x="163.5" y="258.5" width="3.0" height="3.0" rx="0.2" fill="none" stroke="#b4002a" stroke-width="0.9"/>
<path d="M73.8 306.6 V308.3 H105.9 V306.6" fill="none" stroke="#231f20" stroke-width="0.9"/>
<path d="M110.8 306.6 V308.3 H153.7 V306.6" fill="none" stroke="#231f20" stroke-width="0.9"/>
<text x="89.9" y="317.6" font-size="6.6" fill="#231f20" text-anchor="middle" textLength="19.5" lengthAdjust="spacingAndGlyphs">Bottom</text>
<text x="132.1" y="317.6" font-size="6.6" fill="#231f20" text-anchor="middle" textLength="30.7" lengthAdjust="spacingAndGlyphs">Recovering</text>
<text x="79.3" y="48.9" font-size="6.6" fill="#231f20" text-anchor="middle" textLength="13.5" lengthAdjust="spacingAndGlyphs">5-FU</text>
<text x="79.5" y="56.8" font-size="6.6" fill="#231f20" text-anchor="middle" textLength="43.98" lengthAdjust="spacingAndGlyphs">(150 mg/kg, i.v.)</text>
<text x="79.1" y="98.5" font-size="6.6" fill="#231f20" text-anchor="middle" textLength="23.4" lengthAdjust="spacingAndGlyphs">Analysis:</text>
<text x="79.2" y="105.8" font-size="6.6" fill="#3d5a96" text-anchor="middle" textLength="60" lengthAdjust="spacingAndGlyphs">PB, Plasma, BM, Liver</text>
<text x="84.3" y="124.3" font-size="6.6" fill="#231f20" text-anchor="middle" textLength="111" lengthAdjust="spacingAndGlyphs">Samples from: Control, day 1-13 and 21</text>
<line x1="10" y1="129" x2="152" y2="129" stroke="#333" stroke-width="1.6"/>
<path d="M157.4 129 L150.2 126.2 L151.6 129 L150.2 131.8 Z" fill="#000"/>
<g transform="rotate(45 60.5 73.5)"><rect x="52.4" y="72.1" width="3.4" height="2.8" rx="0.6" fill="#1a1a1a"/><rect x="55.6" y="72.9" width="3.4" height="1.2" fill="#333"/><rect x="58.6" y="71.9" width="0.7" height="3.2" fill="#444"/><rect x="59.6" y="72.2" width="7.0" height="2.6" fill="#fafafa" stroke="#444" stroke-width="0.55"/><line x1="66.6" y1="73.5" x2="68.4" y2="73.5" stroke="#666" stroke-width="0.5"/></g>
<path d="M76.5 75.8 C72 76.2 67 78.2 66.3 81.5 C65.8 85 69.5 87.6 74.5 88.2 C77.5 88.6 79.8 89 81 89.8" fill="none" stroke="#c08676" stroke-width="1.25"/>
<path d="M75.3 76 C74.7 70.5 78.4 64.5 84.8 63.7 C89 63.3 92.4 64.1 95.3 65.3 C98.5 66.9 100.5 70.6 101.5 73.5 C99.9 75.2 97.5 75.9 94.5 76.7 C90.5 78.3 86 79.3 82 78.9 C78.8 78.6 76.3 77.7 75.3 76 Z" fill="#0a0a0a"/>
<circle cx="93.6" cy="62.8" r="2.2" fill="#e7b3a5" stroke="#b07868" stroke-width="0.4"/>
<ellipse cx="92.4" cy="69.8" rx="3" ry="1.7" transform="rotate(25 92.4 69.8)" fill="#e6a898"/>
<ellipse cx="93" cy="70.1" rx="1.6" ry="0.8" transform="rotate(25 93 70.1)" fill="#fff"/>
<circle cx="97.6" cy="71.9" r="0.6" fill="#c0102a"/>
<path d="M84.5 78.5 L87.5 80.6 L90 80.3" fill="none" stroke="#d8a090" stroke-width="1.1"/>
<path d="M93.5 76 L94.4 77.4 L95.8 77.6" fill="none" stroke="#d8a090" stroke-width="0.9"/>
<path d="M100.5 71 L104 67.5 M100.8 72 L104.5 70 M100.6 73.6 L103.8 75.6" fill="none" stroke="#bbb" stroke-width="0.35"/>
<text x="289.6" y="191.8" font-size="8.2" fill="#231f20" text-anchor="middle" textLength="15.6" lengthAdjust="spacingAndGlyphs">TBA</text>
<line x1="213.8" y1="197.7" x2="213.8" y2="292.6" stroke="#333" stroke-width="1.5"/>
<line x1="213.1" y1="291.9" x2="358" y2="291.9" stroke="#333" stroke-width="1.5"/>
<line x1="210.2" y1="291.9" x2="213.8" y2="291.9" stroke="#333" stroke-width="1.1"/>
<text x="208.1" y="294.09999999999997" font-size="6.6" fill="#231f20" text-anchor="end">0</text>
<line x1="210.2" y1="261.1333333333333" x2="213.8" y2="261.1333333333333" stroke="#333" stroke-width="1.1"/>
<text x="208.1" y="263.3333333333333" font-size="6.6" fill="#231f20" text-anchor="end" textLength="6.9" lengthAdjust="spacingAndGlyphs">50</text>
<line x1="210.2" y1="230.36666666666665" x2="213.8" y2="230.36666666666665" stroke="#333" stroke-width="1.1"/>
<text x="208.1" y="232.56666666666663" font-size="6.6" fill="#231f20" text-anchor="end" textLength="10.34" lengthAdjust="spacingAndGlyphs">100</text>
<line x1="210.2" y1="199.6" x2="213.8" y2="199.6" stroke="#333" stroke-width="1.1"/>
<text x="208.1" y="201.79999999999998" font-size="6.6" fill="#231f20" text-anchor="end" textLength="10.34" lengthAdjust="spacingAndGlyphs">150</text>
<text x="191.8" y="245.5" font-size="8.0" fill="#231f20" text-anchor="middle" textLength="9.4" lengthAdjust="spacingAndGlyphs" transform="rotate(-90 191.8 245.5)" stroke="#231f20" stroke-width="0.08">µM</text>
<line x1="232" y1="291.9" x2="232" y2="295.2" stroke="#333" stroke-width="1.0"/>
<line x1="267.9" y1="291.9" x2="267.9" y2="295.2" stroke="#333" stroke-width="1.0"/>
<line x1="304.1" y1="291.9" x2="304.1" y2="295.2" stroke="#333" stroke-width="1.0"/>
<line x1="340.1" y1="291.9" x2="340.1" y2="295.2" stroke="#333" stroke-width="1.0"/>
<rect x="220" y="286.8" width="23.900000000000006" height="4.399999999999977" fill="#e19182"/>
<rect x="256" y="280" width="23.899999999999977" height="11.199999999999989" fill="#969bc8"/>
<rect x="292.1" y="266.5" width="24.0" height="24.69999999999999" fill="#bed796"/>
<rect x="328.2" y="286" width="23.80000000000001" height="5.199999999999989" fill="#a07db4"/>
<line x1="226.1" y1="284.3" x2="237.9" y2="284.3" stroke="#444" stroke-width="1.3"/>
<line x1="232" y1="284.3" x2="232" y2="286.8" stroke="#444" stroke-width="1.0"/>
<line x1="262" y1="274.9" x2="274" y2="274.9" stroke="#555" stroke-width="1.3"/>
<line x1="268" y1="274.9" x2="268" y2="280" stroke="#555" stroke-width="1.2"/>
<line x1="298.1" y1="251.5" x2="309.8" y2="251.5" stroke="#555" stroke-width="1.4"/>
<line x1="304" y1="251.5" x2="304" y2="266.5" stroke="#555" stroke-width="1.3"/>
<line x1="334.1" y1="282.3" x2="345.8" y2="282.3" stroke="#444" stroke-width="1.3"/>
<line x1="340" y1="282.3" x2="340" y2="286" stroke="#444" stroke-width="1.0"/>
<circle cx="230.2" cy="283.8" r="1.15" fill="#c4001c"/>
<circle cx="233.3" cy="285" r="1.15" fill="#c4001c"/>
<circle cx="228.6" cy="286.8" r="1.15" fill="#c4001c"/>
<circle cx="235" cy="287" r="1.15" fill="#c4001c"/>
<circle cx="231.7" cy="288.5" r="1.15" fill="#c4001c"/>
<circle cx="267.8" cy="271.2" r="0.95" fill="#163a80"/>
<circle cx="271" cy="272.5" r="0.95" fill="#163a80"/>
<circle cx="264.5" cy="274" r="0.95" fill="#163a80"/>
<circle cx="268" cy="275.6" r="0.95" fill="#163a80"/>
<circle cx="269.5" cy="277.6" r="0.95" fill="#163a80"/>
<circle cx="266.5" cy="279.2" r="0.95" fill="#163a80"/>
<circle cx="273" cy="280.5" r="0.95" fill="#163a80"/>
<circle cx="263" cy="281.3" r="0.95" fill="#163a80"/>
<circle cx="261.3" cy="282.9" r="0.95" fill="#163a80"/>
<circle cx="264.8" cy="283.2" r="0.95" fill="#163a80"/>
<circle cx="268" cy="282.5" r="0.95" fill="#163a80"/>
<circle cx="271" cy="283.6" r="0.95" fill="#163a80"/>
<circle cx="274.2" cy="282.8" r="0.95" fill="#163a80"/>
<circle cx="268" cy="285.9" r="0.95" fill="#163a80"/>
<circle cx="304" cy="230.5" r="0.85" fill="#44a020"/>
<circle cx="304" cy="243.4" r="0.85" fill="#44a020"/>
<circle cx="300.9" cy="262.7" r="0.85" fill="#44a020"/>
<circle cx="307.2" cy="261.3" r="0.85" fill="#44a020"/>
<circle cx="304" cy="265.5" r="0.85" fill="#44a020"/>
<circle cx="303.4" cy="269.6" r="0.85" fill="#44a020"/>
<circle cx="301.5" cy="271.7" r="0.85" fill="#44a020"/>
<circle cx="305.6" cy="272.8" r="0.85" fill="#44a020"/>
<circle cx="297.7" cy="275" r="0.85" fill="#44a020"/>
<circle cx="301" cy="276" r="0.85" fill="#44a020"/>
<circle cx="304" cy="277.6" r="0.85" fill="#44a020"/>
<circle cx="307.2" cy="277.4" r="0.85" fill="#44a020"/>
<circle cx="310.5" cy="276.1" r="0.85" fill="#44a020"/>
<circle cx="338.3" cy="281.3" r="0.95" fill="#4a0a6a"/>
<circle cx="341.5" cy="282.7" r="0.95" fill="#4a0a6a"/>
<circle cx="337" cy="286" r="0.95" fill="#4a0a6a"/>
<circle cx="343.3" cy="287.7" r="0.95" fill="#4a0a6a"/>
<circle cx="340" cy="289" r="0.95" fill="#4a0a6a"/>
<path d="M231.9 223.6 V220.5 H289.8 V223.6" fill="none" stroke="#333" stroke-width="1.2"/>
<path d="M266.4 237.6 V234.6 H290.5 V237.6" fill="none" stroke="#333" stroke-width="1.2"/>
<path d="M234.3 266.2 V263.1 H258.3 V266.2" fill="none" stroke="#333" stroke-width="1.2"/>
<path d="M311.9 258.8 V255.6 H335.9 V258.8" fill="none" stroke="#333" stroke-width="1.2"/>
<rect x="257.6" y="216.2" width="1.6" height="1.6" fill="#333"/>
<rect x="260.0" y="216.2" width="1.6" height="1.6" fill="#333"/>
<rect x="262.40000000000003" y="216.2" width="1.6" height="1.6" fill="#333"/>
<rect x="277.7" y="230.29999999999998" width="1.6" height="1.6" fill="#333"/>
<rect x="321.9" y="251.5" width="1.6" height="1.6" fill="#333"/>
<rect x="324.29999999999995" y="251.5" width="1.6" height="1.6" fill="#333"/>
<text x="246.3" y="258.8" font-size="6.6" fill="#231f20" text-anchor="middle" textLength="9" lengthAdjust="spacingAndGlyphs">NS</text>
<text x="232" y="303.8" font-size="6.6" fill="#231f20" text-anchor="middle" textLength="20.2" lengthAdjust="spacingAndGlyphs">Control</text>
<text x="268" y="303.8" font-size="6.6" fill="#231f20" text-anchor="middle" textLength="20.1" lengthAdjust="spacingAndGlyphs">Bottom</text>
<text x="304" y="303.8" font-size="6.6" fill="#231f20" text-anchor="middle" textLength="30.4" lengthAdjust="spacingAndGlyphs">Recovering</text>
<text x="343.4" y="303.8" font-size="6.6" fill="#231f20" text-anchor="middle" textLength="36.2" lengthAdjust="spacingAndGlyphs">Full Recovery</text>
<rect x="406.6" y="183.9" width="55.6" height="15.7" fill="none" stroke="#222" stroke-width="1.2"/>
<text x="434.3" y="193.6" font-size="6.6" fill="#231f20" text-anchor="middle" textLength="30.9" lengthAdjust="spacingAndGlyphs">Cholesterol</text>
<rect x="373.7" y="266.4" width="26" height="14.2" fill="none" stroke="#222" stroke-width="1.2"/>
<text x="386.7" y="275.3" font-size="6.6" fill="#231f20" text-anchor="middle" textLength="8.7" lengthAdjust="spacingAndGlyphs">CA</text>
<rect x="408.8" y="266.4" width="35.1" height="14.2" fill="none" stroke="#222" stroke-width="1.2"/>
<text x="426.35" y="275.3" font-size="6.6" fill="#231f20" text-anchor="middle" textLength="18.1" lengthAdjust="spacingAndGlyphs">CDCA</text>
<rect x="458.6" y="266.0" width="34.8" height="14.2" fill="none" stroke="#222" stroke-width="1.2"/>
<text x="476.0" y="275.3" font-size="6.6" fill="#231f20" text-anchor="middle" textLength="18.5" lengthAdjust="spacingAndGlyphs">UDCA</text>
<line x1="433.3" y1="199.8" x2="433.3" y2="214.1" stroke="#111" stroke-width="1.1"/>
<path d="M433.30 217.90 L430.70 213.10 L433.30 214.30 L435.90 213.10 Z" fill="#111"/>
<line x1="433.3" y1="221.7" x2="433.3" y2="237.0" stroke="#111" stroke-width="1.1"/>
<path d="M433.30 240.80 L430.70 236.00 L433.30 237.20 L435.90 236.00 Z" fill="#111"/>
<line x1="433.3" y1="244.8" x2="433.3" y2="259.09999999999997" stroke="#111" stroke-width="1.1"/>
<path d="M433.30 262.90 L430.70 258.10 L433.30 259.30 L435.90 258.10 Z" fill="#111"/>
<line x1="392.1" y1="244.8" x2="392.1" y2="259.09999999999997" stroke="#111" stroke-width="1.1"/>
<path d="M392.10 262.90 L389.50 258.10 L392.10 259.30 L394.70 258.10 Z" fill="#111"/>
<line x1="423.8" y1="222.7" x2="398.42619018923506" y2="238.49209142068585" stroke="#111" stroke-width="1.1"/>
<path d="M395.20 240.50 L397.90 235.76 L398.26 238.60 L400.65 240.17 Z" fill="#111"/>
<line x1="442.7" y1="201.3" x2="458.386852001377" y2="215.5453574931424" stroke="#b4002a" stroke-width="1.1"/>
<path d="M461.20 218.10 L455.90 216.80 L458.53 215.68 L459.39 212.95 Z" fill="#b4002a"/>
<line x1="461.5" y1="222.9" x2="461.5" y2="237.39999999999998" stroke="#b4002a" stroke-width="1.1"/>
<path d="M461.50 241.20 L458.90 236.40 L461.50 237.60 L464.10 236.40 Z" fill="#b4002a"/>
<line x1="460.8" y1="245.4" x2="449.5152551094374" y2="260.08676357080566" stroke="#b4002a" stroke-width="1.1"/>
<path d="M447.20 263.10 L448.06 257.71 L449.39 260.25 L452.19 260.88 Z" fill="#b4002a"/>
<line x1="445.2" y1="274" x2="452" y2="274" stroke="#333" stroke-width="1.2" stroke-dasharray="2 2"/>
<path d="M457.8 274 L452.8 271.7 L454.2 274 L452.8 276.3 Z" fill="#111"/>
<text x="417.5" y="209.7" font-size="6.6" fill="#3d5a96" text-anchor="middle" textLength="23.6" lengthAdjust="spacingAndGlyphs">CYP7A1</text>
<text x="468.6" y="209.7" font-size="6.6" fill="#3d5a96" text-anchor="middle" textLength="27.5" lengthAdjust="spacingAndGlyphs">CYP27A1</text>
<text x="476.3" y="232.8" font-size="6.6" fill="#3d5a96" text-anchor="middle" textLength="24.5" lengthAdjust="spacingAndGlyphs">CYP7B1</text>
<text x="400.1" y="227.6" font-size="6.6" fill="#3d5a96" text-anchor="middle" textLength="23.6" lengthAdjust="spacingAndGlyphs">CYP8B1</text>
<text x="413.6" y="253.7" font-size="6.6" fill="#3d5a96" text-anchor="middle" textLength="27.5" lengthAdjust="spacingAndGlyphs">CYP27A1</text>
<line x1="48.6" y1="369.0" x2="48.6" y2="467.8" stroke="#222" stroke-width="1.3"/>
<line x1="48.0" y1="467.1" x2="240" y2="467.1" stroke="#222" stroke-width="1.3"/>
<line x1="45.8" y1="467.1" x2="48.6" y2="467.1" stroke="#222" stroke-width="1.1"/>
<text x="41.2" y="469.3" font-size="6.6" fill="#231f20" text-anchor="middle">0</text>
<line x1="45.8" y1="443.20000000000005" x2="48.6" y2="443.20000000000005" stroke="#222" stroke-width="1.1"/>
<text x="41.2" y="445.40000000000003" font-size="6.6" fill="#231f20" text-anchor="middle">2</text>
<line x1="45.8" y1="419.3" x2="48.6" y2="419.3" stroke="#222" stroke-width="1.1"/>
<text x="41.2" y="421.5" font-size="6.6" fill="#231f20" text-anchor="middle">4</text>
<line x1="45.8" y1="395.4" x2="48.6" y2="395.4" stroke="#222" stroke-width="1.1"/>
<text x="41.2" y="397.59999999999997" font-size="6.6" fill="#231f20" text-anchor="middle">6</text>
<line x1="45.8" y1="371.5" x2="48.6" y2="371.5" stroke="#222" stroke-width="1.1"/>
<text x="41.2" y="373.7" font-size="6.6" fill="#231f20" text-anchor="middle">8</text>
<text x="34.0" y="417.6" font-size="7.8" fill="#231f20" text-anchor="middle" textLength="31.2" lengthAdjust="spacingAndGlyphs" transform="rotate(-90 34.0 417.6)" stroke="#231f20" stroke-width="0.18">Fold change</text>
<line x1="58.0" y1="442.3" x2="58.0" y2="456" stroke="#2a2a2a" stroke-width="1.1"/>
<line x1="55.7" y1="442.3" x2="60.3" y2="442.3" stroke="#2a2a2a" stroke-width="1.3"/>
<rect x="53.3" y="456" width="9.4" height="11.100000000000023" fill="#b5002e"/>
<line x1="72.60000000000001" y1="398.8" x2="72.60000000000001" y2="431.1" stroke="#2a2a2a" stroke-width="1.1"/>
<line x1="70.30000000000001" y1="398.8" x2="74.9" y2="398.8" stroke="#2a2a2a" stroke-width="1.3"/>
<rect x="67.9" y="431.1" width="9.4" height="36.0" fill="#2a4b82"/>
<line x1="86.8" y1="403.5" x2="86.8" y2="424.2" stroke="#2a2a2a" stroke-width="1.1"/>
<line x1="84.5" y1="403.5" x2="89.1" y2="403.5" stroke="#2a2a2a" stroke-width="1.3"/>
<rect x="82.1" y="424.2" width="9.4" height="42.900000000000034" fill="#64aa3c"/>
<line x1="100.9" y1="398.5" x2="100.9" y2="421.2" stroke="#2a2a2a" stroke-width="1.1"/>
<line x1="98.60000000000001" y1="398.5" x2="103.2" y2="398.5" stroke="#2a2a2a" stroke-width="1.3"/>
<rect x="96.2" y="421.2" width="9.4" height="45.900000000000034" fill="#4b2364"/>
<line x1="124.7" y1="448" x2="124.7" y2="455.8" stroke="#2a2a2a" stroke-width="1.1"/>
<line x1="122.4" y1="448" x2="127.0" y2="448" stroke="#2a2a2a" stroke-width="1.3"/>
<rect x="120" y="455.8" width="9.4" height="11.300000000000011" fill="#b5002e"/>
<line x1="139.2" y1="435.5" x2="139.2" y2="446.5" stroke="#2a2a2a" stroke-width="1.1"/>
<line x1="136.89999999999998" y1="435.5" x2="141.5" y2="435.5" stroke="#2a2a2a" stroke-width="1.3"/>
<rect x="134.5" y="446.5" width="9.4" height="20.600000000000023" fill="#2a4b82"/>
<line x1="154.0" y1="420.5" x2="154.0" y2="432" stroke="#2a2a2a" stroke-width="1.1"/>
<line x1="151.7" y1="420.5" x2="156.3" y2="420.5" stroke="#2a2a2a" stroke-width="1.3"/>
<rect x="149.3" y="432" width="9.4" height="35.10000000000002" fill="#64aa3c"/>
<line x1="168.2" y1="435.5" x2="168.2" y2="445" stroke="#2a2a2a" stroke-width="1.1"/>
<line x1="165.89999999999998" y1="435.5" x2="170.5" y2="435.5" stroke="#2a2a2a" stroke-width="1.3"/>
<rect x="163.5" y="445" width="9.4" height="22.100000000000023" fill="#4b2364"/>
<line x1="191.5" y1="449.5" x2="191.5" y2="455.8" stroke="#2a2a2a" stroke-width="1.1"/>
<line x1="189.2" y1="449.5" x2="193.8" y2="449.5" stroke="#2a2a2a" stroke-width="1.3"/>
<rect x="186.8" y="455.8" width="9.4" height="11.300000000000011" fill="#b5002e"/>
<line x1="206.0" y1="442.5" x2="206.0" y2="448" stroke="#2a2a2a" stroke-width="1.1"/>
<line x1="203.7" y1="442.5" x2="208.3" y2="442.5" stroke="#2a2a2a" stroke-width="1.3"/>
<rect x="201.3" y="448" width="9.4" height="19.100000000000023" fill="#2a4b82"/>
<line x1="220.5" y1="445" x2="220.5" y2="448.8" stroke="#2a2a2a" stroke-width="1.1"/>
<line x1="218.2" y1="445" x2="222.8" y2="445" stroke="#2a2a2a" stroke-width="1.3"/>
<rect x="215.8" y="448.8" width="9.4" height="18.30000000000001" fill="#64aa3c"/>
<line x1="234.7" y1="458.3" x2="234.7" y2="460.5" stroke="#2a2a2a" stroke-width="1.1"/>
<line x1="232.39999999999998" y1="458.3" x2="237.0" y2="458.3" stroke="#2a2a2a" stroke-width="1.3"/>
<rect x="230" y="460.5" width="9.4" height="6.600000000000023" fill="#4b2364"/>
<line x1="79.4" y1="467.1" x2="79.4" y2="470.2" stroke="#222" stroke-width="1.0"/>
<line x1="146.3" y1="467.1" x2="146.3" y2="470.2" stroke="#222" stroke-width="1.0"/>
<line x1="212.5" y1="467.1" x2="212.5" y2="470.2" stroke="#222" stroke-width="1.0"/>
<text x="79.7" y="478.0" font-size="6.6" fill="#231f20" text-anchor="middle" textLength="21.37" lengthAdjust="spacingAndGlyphs">Cyp7a1</text>
<text x="146.8" y="478.0" font-size="6.6" fill="#231f20" text-anchor="middle" textLength="21.37" lengthAdjust="spacingAndGlyphs">Cyp8b1</text>
<text x="212.5" y="478.0" font-size="6.6" fill="#231f20" text-anchor="middle" textLength="24.82" lengthAdjust="spacingAndGlyphs">Cyp27a1</text>
<text x="72.4" y="394" font-size="6.6" fill="#231f20" text-anchor="middle" textLength="9" lengthAdjust="spacingAndGlyphs">NS</text>
<text x="86.8" y="398.2" font-size="6.6" fill="#231f20" text-anchor="middle" textLength="9" lengthAdjust="spacingAndGlyphs">NS</text>
<rect x="100.6" y="394.3" width="1.4" height="1.4" fill="#333"/>
<text x="139.3" y="430.0" font-size="6.6" fill="#231f20" text-anchor="middle" textLength="9" lengthAdjust="spacingAndGlyphs">NS</text>
<rect x="152.10000000000002" y="416.8" width="1.4" height="1.4" fill="#333"/>
<rect x="154.10000000000002" y="416.8" width="1.4" height="1.4" fill="#333"/>
<text x="168.2" y="430.0" font-size="6.6" fill="#231f20" text-anchor="middle" textLength="9" lengthAdjust="spacingAndGlyphs">NS</text>
<rect x="204.3" y="438.6" width="1.4" height="1.4" fill="#333"/>
<rect x="206.3" y="438.6" width="1.4" height="1.4" fill="#333"/>
<rect x="219.60000000000002" y="441.1" width="1.4" height="1.4" fill="#333"/>
<text x="234.5" y="455.0" font-size="6.6" fill="#231f20" text-anchor="middle" textLength="9" lengthAdjust="spacingAndGlyphs">NS</text>
<rect x="194" y="370.59999999999997" width="10.6" height="3.2" fill="#b5002e"/>
<text x="207.5" y="374.5" font-size="6.6" fill="#231f20" textLength="20.2" lengthAdjust="spacingAndGlyphs">Control</text>
<rect x="194" y="380.79999999999995" width="10.6" height="3.2" fill="#2a4b82"/>
<text x="207.5" y="384.7" font-size="6.6" fill="#231f20" textLength="19.4" lengthAdjust="spacingAndGlyphs">Bottom</text>
<rect x="194" y="390.7" width="10.6" height="3.2" fill="#64aa3c"/>
<text x="207.5" y="394.6" font-size="6.6" fill="#231f20" textLength="30.4" lengthAdjust="spacingAndGlyphs">Recovering</text>
<rect x="194" y="400.79999999999995" width="10.6" height="3.2" fill="#4b2364"/>
<text x="207.5" y="404.7" font-size="6.6" fill="#231f20" textLength="34.1" lengthAdjust="spacingAndGlyphs">Full recovery</text>
<line x1="286.3" y1="362.5" x2="286.3" y2="467.5" stroke="#222" stroke-width="1.3"/>
<line x1="285.7" y1="466.9" x2="474.1" y2="466.9" stroke="#222" stroke-width="1.3"/>
<line x1="283.5" y1="466.7" x2="286.3" y2="466.7" stroke="#222" stroke-width="1.1"/>
<text x="281.2" y="468.9" font-size="6.6" fill="#231f20" text-anchor="end" textLength="8.62" lengthAdjust="spacingAndGlyphs">0.0</text>
<line x1="283.5" y1="449.85" x2="286.3" y2="449.85" stroke="#222" stroke-width="1.1"/>
<text x="281.2" y="452.05" font-size="6.6" fill="#231f20" text-anchor="end" textLength="8.62" lengthAdjust="spacingAndGlyphs">0.3</text>
<line x1="283.5" y1="433.0" x2="286.3" y2="433.0" stroke="#222" stroke-width="1.1"/>
<text x="281.2" y="435.2" font-size="6.6" fill="#231f20" text-anchor="end" textLength="8.62" lengthAdjust="spacingAndGlyphs">0.6</text>
<line x1="283.5" y1="416.15" x2="286.3" y2="416.15" stroke="#222" stroke-width="1.1"/>
<text x="281.2" y="418.34999999999997" font-size="6.6" fill="#231f20" text-anchor="end" textLength="8.62" lengthAdjust="spacingAndGlyphs">0.9</text>
<line x1="283.5" y1="399.3" x2="286.3" y2="399.3" stroke="#222" stroke-width="1.1"/>
<text x="281.2" y="401.5" font-size="6.6" fill="#231f20" text-anchor="end" textLength="8.62" lengthAdjust="spacingAndGlyphs">1.2</text>
<line x1="283.5" y1="382.45000000000005" x2="286.3" y2="382.45000000000005" stroke="#222" stroke-width="1.1"/>
<text x="281.2" y="384.65000000000003" font-size="6.6" fill="#231f20" text-anchor="end" textLength="8.62" lengthAdjust="spacingAndGlyphs">1.5</text>
<line x1="283.5" y1="365.6" x2="286.3" y2="365.6" stroke="#222" stroke-width="1.1"/>
<text x="281.2" y="367.8" font-size="6.6" fill="#231f20" text-anchor="end" textLength="8.62" lengthAdjust="spacingAndGlyphs">1.8</text>
<text x="266.6" y="416.0" font-size="7.8" fill="#231f20" text-anchor="middle" textLength="31.2" lengthAdjust="spacingAndGlyphs" transform="rotate(-90 266.6 416.0)" stroke="#231f20" stroke-width="0.18">Fold change</text>
<line x1="292.2" y1="405.4" x2="292.2" y2="411.3" stroke="#333" stroke-width="1.0"/>
<line x1="290.4" y1="405.4" x2="294.0" y2="405.4" stroke="#333" stroke-width="1.1"/>
<line x1="300.2" y1="421.3" x2="300.2" y2="429" stroke="#333" stroke-width="1.0"/>
<line x1="298.4" y1="421.3" x2="302.0" y2="421.3" stroke="#333" stroke-width="1.1"/>
<rect x="289.6" y="411.3" width="5.2" height="55.0" fill="#b5002e"/>
<rect x="297.7" y="429" width="5.1" height="37.30000000000001" fill="#2a4b82"/>
<line x1="295.8" y1="466.9" x2="295.8" y2="469.6" stroke="#222" stroke-width="1.0"/>
<text x="299.0" y="477.2" font-size="6.6" fill="#231f20" text-anchor="end" textLength="12.11" lengthAdjust="spacingAndGlyphs" transform="rotate(-45 299.0 477.2)">Ntcp</text>
<line x1="313.3" y1="402.3" x2="313.3" y2="411.3" stroke="#333" stroke-width="1.0"/>
<line x1="311.5" y1="402.3" x2="315.1" y2="402.3" stroke="#333" stroke-width="1.1"/>
<line x1="321.3" y1="436.2" x2="321.3" y2="441.3" stroke="#333" stroke-width="1.0"/>
<line x1="319.5" y1="436.2" x2="323.1" y2="436.2" stroke="#333" stroke-width="1.1"/>
<rect x="310.70000000000005" y="411.3" width="5.2" height="55.0" fill="#b5002e"/>
<rect x="318.8" y="441.3" width="5.1" height="25.0" fill="#2a4b82"/>
<line x1="316.90000000000003" y1="466.9" x2="316.90000000000003" y2="469.6" stroke="#222" stroke-width="1.0"/>
<text x="320.1" y="477.2" font-size="6.6" fill="#231f20" text-anchor="end" textLength="21.28" lengthAdjust="spacingAndGlyphs" transform="rotate(-45 320.1 477.2)">Slco1a1</text>
<line x1="334.4" y1="403.3" x2="334.4" y2="411.3" stroke="#333" stroke-width="1.0"/>
<line x1="332.59999999999997" y1="403.3" x2="336.2" y2="403.3" stroke="#333" stroke-width="1.1"/>
<line x1="342.4" y1="424.2" x2="342.4" y2="429.8" stroke="#333" stroke-width="1.0"/>
<line x1="340.59999999999997" y1="424.2" x2="344.2" y2="424.2" stroke="#333" stroke-width="1.1"/>
<rect x="331.8" y="411.3" width="5.2" height="55.0" fill="#b5002e"/>
<rect x="339.9" y="429.8" width="5.1" height="36.5" fill="#2a4b82"/>
<line x1="338.0" y1="466.9" x2="338.0" y2="469.6" stroke="#222" stroke-width="1.0"/>
<text x="341.2" y="477.2" font-size="6.6" fill="#231f20" text-anchor="end" textLength="21.28" lengthAdjust="spacingAndGlyphs" transform="rotate(-45 341.2 477.2)">Slco1b2</text>
<line x1="355.5" y1="395.4" x2="355.5" y2="411.3" stroke="#333" stroke-width="1.0"/>
<line x1="353.7" y1="395.4" x2="357.3" y2="395.4" stroke="#333" stroke-width="1.1"/>
<line x1="363.5" y1="431" x2="363.5" y2="440" stroke="#333" stroke-width="1.0"/>
<line x1="361.7" y1="431" x2="365.3" y2="431" stroke="#333" stroke-width="1.1"/>
<rect x="352.90000000000003" y="411.3" width="5.2" height="55.0" fill="#b5002e"/>
<rect x="361.0" y="440" width="5.1" height="26.30000000000001" fill="#2a4b82"/>
<line x1="359.1" y1="466.9" x2="359.1" y2="469.6" stroke="#222" stroke-width="1.0"/>
<text x="362.3" y="477.2" font-size="6.6" fill="#231f20" text-anchor="end" textLength="21.28" lengthAdjust="spacingAndGlyphs" transform="rotate(-45 362.3 477.2)">Slco1a4</text>
<line x1="376.6" y1="398.3" x2="376.6" y2="411.3" stroke="#333" stroke-width="1.0"/>
<line x1="374.8" y1="398.3" x2="378.40000000000003" y2="398.3" stroke="#333" stroke-width="1.1"/>
<line x1="384.6" y1="447.8" x2="384.6" y2="451.4" stroke="#333" stroke-width="1.0"/>
<line x1="382.8" y1="447.8" x2="386.40000000000003" y2="447.8" stroke="#333" stroke-width="1.1"/>
<rect x="374.00000000000006" y="411.3" width="5.2" height="55.0" fill="#b5002e"/>
<rect x="382.1" y="451.4" width="5.1" height="14.900000000000034" fill="#2a4b82"/>
<line x1="380.20000000000005" y1="466.9" x2="380.20000000000005" y2="469.6" stroke="#222" stroke-width="1.0"/>
<text x="383.40000000000003" y="477.2" font-size="6.6" fill="#231f20" text-anchor="end" textLength="21.28" lengthAdjust="spacingAndGlyphs" transform="rotate(-45 383.40000000000003 477.2)">Slco4a1</text>
<line x1="397.7" y1="402.3" x2="397.7" y2="411.3" stroke="#333" stroke-width="1.0"/>
<line x1="395.9" y1="402.3" x2="399.5" y2="402.3" stroke="#333" stroke-width="1.1"/>
<line x1="405.7" y1="426" x2="405.7" y2="431.8" stroke="#333" stroke-width="1.0"/>
<line x1="403.9" y1="426" x2="407.5" y2="426" stroke="#333" stroke-width="1.1"/>
<rect x="395.1" y="411.3" width="5.2" height="55.0" fill="#b5002e"/>
<rect x="403.2" y="431.8" width="5.1" height="34.5" fill="#2a4b82"/>
<line x1="401.3" y1="466.9" x2="401.3" y2="469.6" stroke="#222" stroke-width="1.0"/>
<text x="404.5" y="477.2" font-size="6.6" fill="#231f20" text-anchor="end" textLength="16.37" lengthAdjust="spacingAndGlyphs" transform="rotate(-45 404.5 477.2)">Abcc2</text>
<line x1="418.8" y1="401.4" x2="418.8" y2="411.3" stroke="#333" stroke-width="1.0"/>
<line x1="417.0" y1="401.4" x2="420.6" y2="401.4" stroke="#333" stroke-width="1.1"/>
<line x1="426.8" y1="439.7" x2="426.8" y2="443.7" stroke="#333" stroke-width="1.0"/>
<line x1="425.0" y1="439.7" x2="428.6" y2="439.7" stroke="#333" stroke-width="1.1"/>
<rect x="416.20000000000005" y="411.3" width="5.2" height="55.0" fill="#b5002e"/>
<rect x="424.3" y="443.7" width="5.1" height="22.600000000000023" fill="#2a4b82"/>
<line x1="422.40000000000003" y1="466.9" x2="422.40000000000003" y2="469.6" stroke="#222" stroke-width="1.0"/>
<text x="425.6" y="477.2" font-size="6.6" fill="#231f20" text-anchor="end" textLength="16.37" lengthAdjust="spacingAndGlyphs" transform="rotate(-45 425.6 477.2)">Abcc3</text>
<line x1="439.9" y1="403.5" x2="439.9" y2="411.3" stroke="#333" stroke-width="1.0"/>
<line x1="438.09999999999997" y1="403.5" x2="441.7" y2="403.5" stroke="#333" stroke-width="1.1"/>
<line x1="447.9" y1="381.4" x2="447.9" y2="391.8" stroke="#333" stroke-width="1.0"/>
<line x1="446.09999999999997" y1="381.4" x2="449.7" y2="381.4" stroke="#333" stroke-width="1.1"/>
<rect x="437.3" y="411.3" width="5.2" height="55.0" fill="#b5002e"/>
<rect x="445.4" y="391.8" width="5.1" height="74.5" fill="#2a4b82"/>
<line x1="443.5" y1="466.9" x2="443.5" y2="469.6" stroke="#222" stroke-width="1.0"/>
<text x="446.7" y="477.2" font-size="6.6" fill="#231f20" text-anchor="end" textLength="16.37" lengthAdjust="spacingAndGlyphs" transform="rotate(-45 446.7 477.2)">Abcc4</text>
<line x1="461.0" y1="404.3" x2="461.0" y2="411.3" stroke="#333" stroke-width="1.0"/>
<line x1="459.2" y1="404.3" x2="462.8" y2="404.3" stroke="#333" stroke-width="1.1"/>
<line x1="469.0" y1="391.1" x2="469.0" y2="402.6" stroke="#333" stroke-width="1.0"/>
<line x1="467.2" y1="391.1" x2="470.8" y2="391.1" stroke="#333" stroke-width="1.1"/>
<rect x="458.40000000000003" y="411.3" width="5.2" height="55.0" fill="#b5002e"/>
<rect x="466.5" y="402.6" width="5.1" height="63.69999999999999" fill="#2a4b82"/>
<line x1="464.6" y1="466.9" x2="464.6" y2="469.6" stroke="#222" stroke-width="1.0"/>
<text x="467.8" y="477.2" font-size="6.6" fill="#231f20" text-anchor="end" textLength="16.37" lengthAdjust="spacingAndGlyphs" transform="rotate(-45 467.8 477.2)">Abcc5</text>
<line x1="290" y1="399.3" x2="302.1" y2="399.3" stroke="#222" stroke-width="1.2"/>
<rect x="294.25" y="395.0" width="1.4" height="1.4" fill="#333"/>
<rect x="296.45" y="395.0" width="1.4" height="1.4" fill="#333"/>
<line x1="311.2" y1="396.3" x2="323.3" y2="396.3" stroke="#222" stroke-width="1.2"/>
<rect x="314.35" y="392.0" width="1.4" height="1.4" fill="#333"/>
<rect x="316.55" y="392.0" width="1.4" height="1.4" fill="#333"/>
<rect x="318.75" y="392.0" width="1.4" height="1.4" fill="#333"/>
<line x1="332.3" y1="397.1" x2="344" y2="397.1" stroke="#222" stroke-width="1.2"/>
<rect x="337.45" y="392.8" width="1.4" height="1.4" fill="#333"/>
<line x1="373.6" y1="391.8" x2="384.8" y2="391.8" stroke="#222" stroke-width="1.2"/>
<rect x="376.30000000000007" y="387.5" width="1.4" height="1.4" fill="#333"/>
<rect x="378.50000000000006" y="387.5" width="1.4" height="1.4" fill="#333"/>
<rect x="380.70000000000005" y="387.5" width="1.4" height="1.4" fill="#333"/>
<line x1="394.6" y1="396.6" x2="406.6" y2="396.6" stroke="#222" stroke-width="1.2"/>
<rect x="399.90000000000003" y="392.3" width="1.4" height="1.4" fill="#333"/>
<line x1="415.5" y1="394.9" x2="427.4" y2="394.9" stroke="#222" stroke-width="1.2"/>
<rect x="418.55" y="390.59999999999997" width="1.4" height="1.4" fill="#333"/>
<rect x="420.75" y="390.59999999999997" width="1.4" height="1.4" fill="#333"/>
<rect x="422.95" y="390.59999999999997" width="1.4" height="1.4" fill="#333"/>
<rect x="440.1" y="361.4" width="11" height="3.4" fill="#b5002e"/>
<rect x="440.1" y="371.4" width="11" height="3.4" fill="#2a4b82"/>
<text x="453.9" y="364.8" font-size="6.6" fill="#231f20" textLength="20" lengthAdjust="spacingAndGlyphs">Control</text>
<text x="453.9" y="375.2" font-size="6.6" fill="#231f20" textLength="13.3" lengthAdjust="spacingAndGlyphs">5-FU</text>
</svg>
</body></html>
